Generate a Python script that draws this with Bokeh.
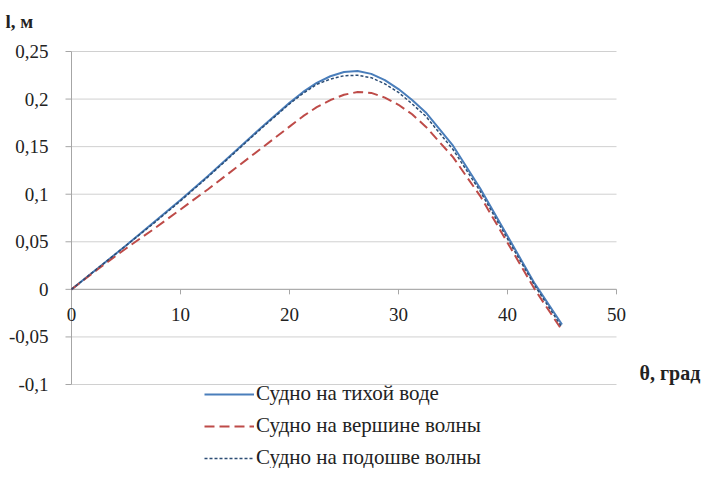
import math
from bokeh.plotting import figure
from bokeh.models import Range1d, Legend, LegendItem, Label, ColumnDataSource
from bokeh.core.properties import value
from bokeh.embed import file_html
from bokeh.resources import INLINE

theta = [0, 2.5, 5, 7.5, 10, 12.5, 15, 17.5, 20, 21.25, 22.5, 23.75, 25, 26.25, 27.5,
         28.75, 30, 31.25, 32.5, 35, 37.5, 40, 42.5, 45]
calm = [0, 0.023, 0.046, 0.070, 0.094, 0.119, 0.145, 0.171, 0.196, 0.2075, 0.217, 0.224,
        0.2285, 0.2295, 0.2265, 0.220, 0.2105, 0.199, 0.186, 0.151, 0.106, 0.056, 0.006, -0.037]
crest = [0, 0.022, 0.043, 0.063, 0.084, 0.105, 0.127, 0.149, 0.171, 0.182, 0.1915, 0.199,
         0.2045, 0.2075, 0.2065, 0.2015, 0.194, 0.184, 0.171, 0.139, 0.098, 0.049, 0.000, -0.043]
trough = [0, 0.023, 0.046, 0.069, 0.093, 0.118, 0.144, 0.170, 0.195, 0.206, 0.2155, 0.221,
          0.2245, 0.225, 0.2225, 0.216, 0.207, 0.195, 0.182, 0.147, 0.103, 0.053, 0.004, -0.040]

y_ticks = [-0.1, -0.05, 0, 0.05, 0.1, 0.15, 0.2, 0.25]
y_labels = ["-0,1", "-0,05", "0", "0,05", "0,1", "0,15", "0,2", "0,25"]
x_ticks = [0, 10, 20, 30, 40, 50]
x_labels = ["0", "10", "20", "30", "40", "50"]

series_names = ["Судно на тихой воде", "Судно на вершине волны", "Судно на подошве волны"]
y_title = "l, м"
x_title = "θ, град"

FONT = "Liberation Serif"
TXT = "#222222"
AXIS = "#a6a6a6"
GRID = "#d0d0d0"

# layout (pixels inside the figure)
W, H = 707, 468
PL, PR, PT, PB = 71, 616, 51, 384   # plot-area box

x0, x1 = x_ticks[0], x_ticks[-1]
y0, y1 = y_ticks[0], y_ticks[-1]
kx = (PR - PL) / (x1 - x0)
ky = (PB - PT) / (y1 - y0)
xr = Range1d(x0 - PL / kx, x1 + (W - PR) / kx)
yr = Range1d(y0 - (H - PB) / ky, y1 + PT / ky)

p = figure(width=W, height=H, output_backend="svg", toolbar_location=None,
           x_range=xr, y_range=yr, x_axis_location=None, y_axis_location=None,
           min_border=0)
p.outline_line_color = None
p.grid.visible = False
p.background_fill_color = "white"
p.border_fill_color = "white"

# horizontal gridlines
p.segment(x0=[x0] * len(y_ticks), y0=y_ticks, x1=[x1] * len(y_ticks), y1=y_ticks,
          line_color=GRID, line_width=1)
# y axis line
p.segment(x0=[x0], y0=[y0], x1=[x0], y1=[y1], line_color=AXIS, line_width=1)
# x axis line at y = 0
p.segment(x0=[x0], y0=[0], x1=[x1], y1=[0], line_color=AXIS, line_width=1)

# y ticks and labels
ysrc = ColumnDataSource(dict(x=[x0] * len(y_ticks), y=y_ticks, t=y_labels))
p.ray(x="x", y="y", source=ysrc, length=6, length_units="screen", angle=math.pi,
      line_color=AXIS, line_width=1)
p.text("x", "y", text="t", source=ysrc, text_font=value(FONT), text_font_size="19px",
       text_color=TXT, text_align="right", text_baseline="middle", x_offset=-23)

# x ticks and labels
xsrc = ColumnDataSource(dict(x=x_ticks, y=[0] * len(x_ticks), t=x_labels))
p.ray(x="x", y="y", source=xsrc, length=5, length_units="screen", angle=-math.pi / 2,
      line_color=AXIS, line_width=1)
p.text("x", "y", text="t", source=xsrc, text_font=value(FONT), text_font_size="19px",
       text_color=TXT, text_align="center", text_baseline="middle", y_offset=25)

r1 = p.line(theta, calm, line_color="#4a7ebb", line_width=2)
r2 = p.line(theta, crest, line_color="#be4b48", line_width=2, line_dash="10 5")
r3 = p.line(theta, trough, line_color="#2c4d75", line_width=1.5, line_dash="3 2")

legend = Legend(items=[LegendItem(label=series_names[0], renderers=[r1]),
                       LegendItem(label=series_names[1], renderers=[r2]),
                       LegendItem(label=series_names[2], renderers=[r3])],
                location=(204, -2), orientation="vertical",
                border_line_color=None, background_fill_alpha=0,
                label_text_font=FONT, label_text_font_size="21px",
                label_text_color=TXT,
                glyph_width=50, glyph_height=22, label_height=22,
                label_standoff=2, spacing=7, padding=0, margin=0)
p.add_layout(legend, "center")

p.add_layout(Label(x=5, y=H - 21, x_units="screen", y_units="screen", text=y_title,
                   text_font=FONT, text_font_size="19px", text_font_style="bold",
                   text_color=TXT, text_baseline="middle"))
p.add_layout(Label(x=639, y=H - 372, x_units="screen", y_units="screen", text=x_title,
                   text_font=FONT, text_font_size="20px", text_font_style="bold",
                   text_color=TXT, text_baseline="middle"))

open("out.html", "w").write(file_html(p, INLINE))
